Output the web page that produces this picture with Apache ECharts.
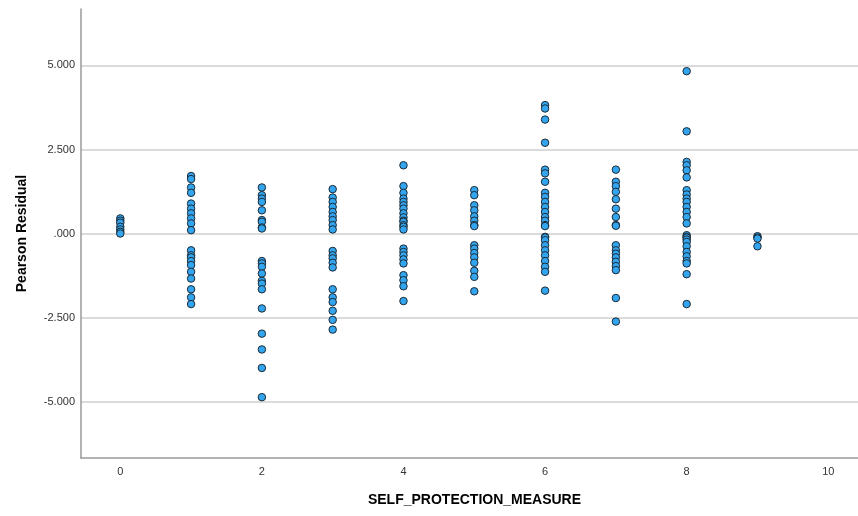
<!DOCTYPE html>
<html>
<head>
<meta charset="utf-8">
<script src="https://cdn.jsdelivr.net/npm/echarts@6/dist/echarts.min.js"></script>
<style>html,body{margin:0;padding:0;background:#fff}#c{width:858px;height:516px}</style>
</head>
<body>
<div id="c"></div>
<script>
// X categories (SELF_PROTECTION_MEASURE) and Pearson residuals for each
const x0 = [0.45, 0.38, 0.32, 0.20, 0.12, 0.05, 0.00];
const x1 = [1.71, 1.62, 1.37, 1.21, 0.89, 0.74, 0.60, 0.45, 0.30, 0.10,
            -0.50, -0.65, -0.71, -0.82, -0.94, -1.14, -1.34, -1.66, -1.90, -2.10];
const x2 = [1.37, 1.14, 1.04, 0.94, 0.69, 0.40, 0.35, 0.18, 0.15,
            -0.82, -0.89, -0.99, -1.19, -1.41, -1.49, -1.66, -2.23, -2.98, -3.45, -4.00, -4.87];
const x3 = [1.32, 1.07, 0.94, 0.79, 0.64, 0.51, 0.40, 0.25, 0.12,
            -0.52, -0.65, -0.74, -0.87, -1.01, -1.66, -1.90, -2.04, -2.30, -2.57, -2.86];
const x4 = [2.03, 1.41, 1.21, 1.04, 0.94, 0.84, 0.74, 0.60, 0.48, 0.38, 0.35, 0.25, 0.20, 0.12,
            -0.45, -0.55, -0.65, -0.77, -0.89, -1.24, -1.39, -1.57, -2.01];
const x5 = [1.29, 1.14, 0.84, 0.69, 0.51, 0.38, 0.25, 0.22,
            -0.35, -0.45, -0.58, -0.71, -0.87, -1.11, -1.29, -1.72];
const x6 = [3.82, 3.72, 3.39, 2.70, 1.90, 1.79, 1.54, 1.21, 1.09, 0.94, 0.79, 0.64, 0.49, 0.38, 0.25, 0.22,
            -0.10, -0.12, -0.20, -0.35, -0.50, -0.65, -0.82, -0.99, -1.14, -1.70];
const x7 = [1.90, 1.54, 1.41, 1.24, 1.02, 0.74, 0.49, 0.25, 0.23,
            -0.35, -0.50, -0.60, -0.71, -0.84, -0.97, -1.09, -1.92, -2.62];
const x8 = [4.83, 3.04, 2.13, 2.03, 1.88, 1.67, 1.29, 1.16, 1.04, 0.94, 0.79, 0.64, 0.49, 0.30,
            -0.05, -0.10, -0.12, -0.18, -0.25, -0.38, -0.55, -0.68, -0.82, -0.89, -1.21, -2.10];
const x9 = [-0.08, -0.12, -0.15, -0.38];

const xCategories = [0, 1, 2, 3, 4, 5, 6, 7, 8, 9];
const residualsByX = [x0, x1, x2, x3, x4, x5, x6, x7, x8, x9];

const xTickValues = [0, 2, 4, 6, 8, 10];
const yTickValues = [-5, -2.5, 0, 2.5, 5];
const yTickLabels = ['-5.000', '-2.500', '.000', '2.500', '5.000'];

const points = [];
xCategories.forEach((xv, i) => residualsByX[i].forEach(r => points.push([xv, r])));

const tickFont = 'Liberation Sans Narrow, Liberation Sans, Arial, sans-serif';
const chart = echarts.init(document.getElementById('c'), null, {renderer: 'canvas'});
chart.setOption({
  animation: false,
  backgroundColor: '#ffffff',
  grid: {left: 81, right: 0, top: 9, bottom: 58, containLabel: false, outerBoundsMode: 'none'},
  xAxis: {
    type: 'value', min: -0.555, max: 10.42,
    name: 'SELF_PROTECTION_MEASURE', nameLocation: 'middle', nameGap: 35,
    nameTextStyle: {fontFamily: 'Liberation Sans', fontWeight: 'bold', fontSize: 14, color: '#000', padding: [0, 0, 0, 10]},
    axisLine: {show: true, onZero: false, lineStyle: {color: '#9a9a9a', width: 1.5}},
    axisTick: {show: false, customValues: xTickValues},
    axisLabel: {customValues: xTickValues, fontFamily: tickFont, fontSize: 11, color: '#333', margin: 8},
    splitLine: {show: false}
  },
  yAxis: {
    type: 'value', min: -6.68, max: 6.68,
    name: 'Pearson Residual', nameLocation: 'middle', nameGap: 52, nameRotate: 90,
    nameTextStyle: {fontFamily: 'Liberation Sans', fontWeight: 'bold', fontSize: 14, color: '#000'},
    axisLine: {show: true, onZero: false, lineStyle: {color: '#9a9a9a', width: 1.5}},
    axisTick: {show: false, customValues: yTickValues},
    axisLabel: {
      customValues: yTickValues, fontFamily: tickFont, fontSize: 11, color: '#333', margin: 6,
      formatter: v => { const k = yTickValues.findIndex(t => Math.abs(t - v) < 1e-6); return k >= 0 ? yTickLabels[k] : ''; }
    },
    splitLine: {show: true, lineStyle: {color: '#cfcfcf', width: 1.5}}
  },
  series: [{
    type: 'scatter',
    data: points,
    symbol: 'circle',
    symbolSize: 7.5,
    itemStyle: {color: '#33a5ee', borderColor: '#1c2a36', borderWidth: 1, opacity: 1}
  }]
});
</script>
</body>
</html>
